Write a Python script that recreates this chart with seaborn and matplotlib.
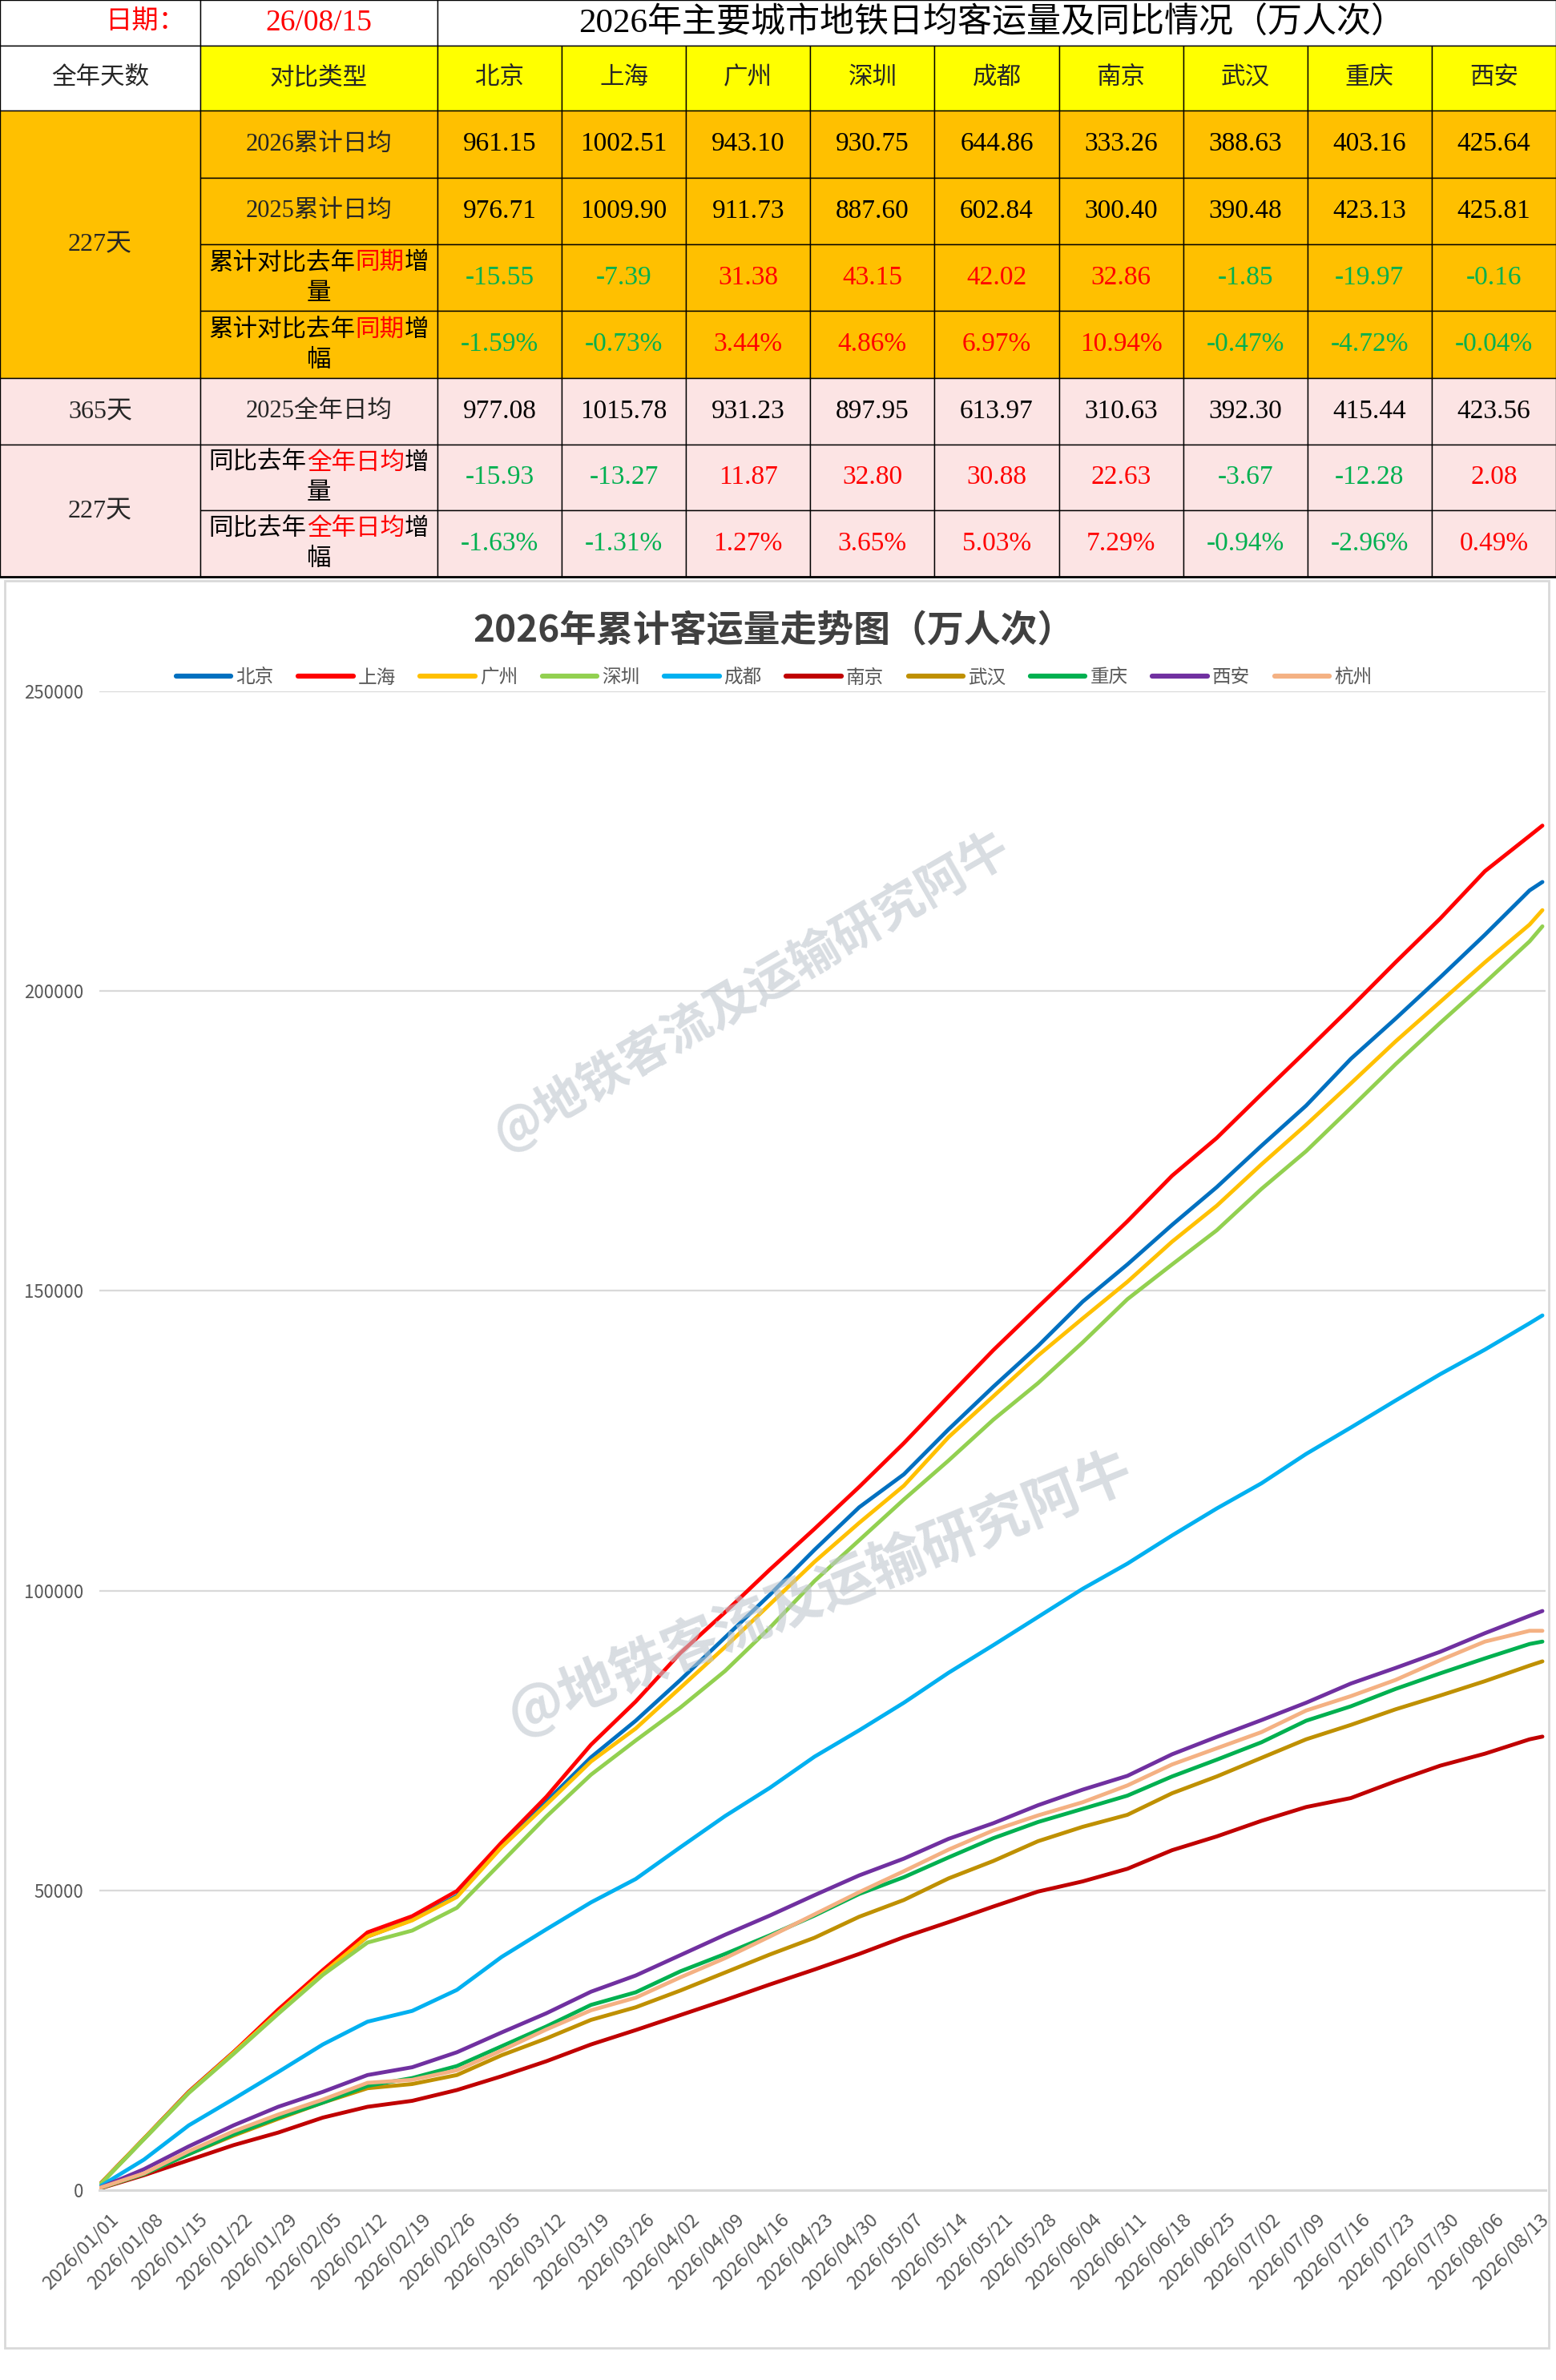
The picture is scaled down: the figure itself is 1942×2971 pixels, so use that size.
import matplotlib
matplotlib.use("Agg")
import matplotlib.pyplot as plt
import matplotlib.dates as mdates
import matplotlib.transforms as mtransforms
from matplotlib.patches import Rectangle
from matplotlib.lines import Line2D
import seaborn as sns
import pandas as pd

# ---------------- table data ----------------
report_date = "26/08/15"
table_title = "2026年主要城市地铁日均客运量及同比情况（万人次）"
table_cities = ["北京", "上海", "广州", "深圳", "成都", "南京", "武汉", "重庆", "西安"]
avg_2026 = [961.15, 1002.51, 943.10, 930.75, 644.86, 333.26, 388.63, 403.16, 425.64]
avg_2025_ytd = [976.71, 1009.90, 911.73, 887.60, 602.84, 300.40, 390.48, 423.13, 425.81]
diff_ytd = [-15.55, -7.39, 31.38, 43.15, 42.02, 32.86, -1.85, -19.97, -0.16]
pct_ytd = [-1.59, -0.73, 3.44, 4.86, 6.97, 10.94, -0.47, -4.72, -0.04]
avg_2025_full = [977.08, 1015.78, 931.23, 897.95, 613.97, 310.63, 392.30, 415.44, 423.56]
diff_full = [-15.93, -13.27, 11.87, 32.80, 30.88, 22.63, -3.67, -12.28, 2.08]
pct_full = [-1.63, -1.31, 1.27, 3.65, 5.03, 7.29, -0.94, -2.96, 0.49]

# ---------------- chart data (cumulative, 万人次, read weekly) ----------------
chart_title = "2026年累计客运量走势图（万人次）"
days = [0, 7, 14, 21, 28, 35, 42, 49, 56, 63, 70, 77, 84, 91, 98, 105, 112, 119,
        126, 133, 140, 147, 154, 161, 168, 175, 182, 189, 196, 203, 210, 217, 224, 226]
beijing = [850, 8600, 16400, 23000, 29600, 36200, 42300, 45100, 49100, 57700, 64800, 72200,
           78300, 85100, 92200, 99300, 106800, 113900, 119400, 126900, 134000, 140800,
           148200, 154400, 161000, 167300, 174200, 180900, 188700, 195400, 202300, 209400,
           216800, 218200]
shanghai = [900, 8600, 16400, 23000, 30100, 36700, 43000, 45700, 49900, 58000, 65600, 74300,
            81500, 89600, 96400, 103500, 110300, 117300, 124600, 132400, 140100, 147300,
            154400, 161600, 169200, 175500, 182800, 190000, 197300, 204800, 212100, 220000,
            225900, 227600]
guangzhou = [850, 8600, 16300, 22900, 29600, 36200, 42300, 45000, 48900, 57200, 64300, 71500,
             77000, 83800, 90600, 97700, 104800, 111300, 117500, 125600, 132400, 139200,
             145400, 151500, 158200, 164200, 171100, 177700, 184600, 191600, 198200, 204800,
             211100, 213500]
shenzhen = [800, 8500, 16200, 22700, 29400, 35900, 41300, 43300, 47100, 54700, 62300, 69300,
            75000, 80500, 86600, 93800, 101600, 108400, 115200, 121700, 128500, 134600,
            141400, 148600, 154400, 160100, 167000, 173300, 180500, 187800, 194700, 201400,
            208300, 210800]
chengdu = [550, 5100, 10800, 15200, 19700, 24300, 28100, 29900, 33400, 38900, 43500, 48000,
           51900, 57200, 62400, 67100, 72300, 76700, 81300, 86300, 90900, 95600,
           100300, 104500, 109200, 113700, 117900, 122800, 127200, 131700, 136100, 140200,
           144600, 145900]
nanjing = [250, 2500, 5000, 7500, 9600, 12100, 13900, 14900, 16700, 19000, 21500, 24300,
           26700, 29200, 31700, 34300, 36800, 39400, 42200, 44700, 47300, 49800,
           51500, 53600, 56700, 59000, 61600, 63900, 65400, 68200, 70800, 72800,
           75200, 75650]
wuhan = [300, 2700, 6000, 9100, 11900, 14600, 17000, 17700, 19200, 22500, 25300, 28400,
         30500, 33300, 36300, 39300, 42100, 45600, 48400, 52000, 54900, 58200,
         60600, 62600, 66200, 69000, 72100, 75200, 77600, 80200, 82500, 84900,
         87500, 88200]
chongqing = [330, 2700, 6000, 9300, 12100, 14600, 17400, 18700, 20700, 24000, 27300, 30900,
             33000, 36500, 39400, 42500, 45800, 49400, 52200, 55500, 58700, 61400,
             63600, 65800, 69000, 71800, 74700, 78300, 80700, 83600, 86200, 88700,
             91100, 91500]
xian = [350, 3500, 7300, 10800, 13900, 16400, 19200, 20500, 23000, 26300, 29500, 33100,
        35800, 39200, 42600, 45800, 49200, 52500, 55300, 58600, 61200, 64200,
        66800, 69100, 72700, 75600, 78400, 81300, 84500, 87100, 89800, 92900,
        95800, 96600]
hangzhou = [350, 2800, 6500, 9800, 12600, 15100, 17900, 18400, 20000, 23300, 26800, 30000,
            32100, 35500, 38700, 42300, 46000, 49700, 53200, 56800, 60000, 62500,
            64700, 67500, 71000, 73700, 76400, 80000, 82400, 85100, 88400, 91500,
            93300, 93300]

chart_cities = ["北京", "上海", "广州", "深圳", "成都", "南京", "武汉", "重庆", "西安", "杭州"]
city_series = [beijing, shanghai, guangzhou, shenzhen, chengdu, nanjing, wuhan,
               chongqing, xian, hangzhou]
city_colors = ["#0070C0", "#FF0000", "#FFC000", "#92D050", "#00B0F0", "#C00000",
               "#BF9000", "#00B050", "#7030A0", "#F4B183"]

start = pd.Timestamp("2026-01-01")
rows = []
for city, vals in zip(chart_cities, city_series):
    for d, v in zip(days, vals):
        rows.append((start + pd.Timedelta(days=d), city, v))
df = pd.DataFrame(rows, columns=["date", "city", "value"])

# ---------------- style ----------------
sns.set_style("white")
plt.rcParams["font.family"] = ["Noto Sans CJK SC", "DejaVu Sans"]
plt.rcParams["axes.unicode_minus"] = False
serif_cjk = ["Liberation Serif", "Noto Sans CJK SC"]
W, H = 1942, 2971

fig = plt.figure(figsize=(W / 100, H / 100), dpi=100)
bg = fig.add_axes([0, 0, 1, 1])
bg.set_xlim(0, W)
bg.set_ylim(H, 0)
bg.axis("off")

# ---------------- table ----------------
YELLOW, ORANGE, PINK = "#FFFF00", "#FFC000", "#FCE4E4"
RED, GREEN = "#FF0000", "#00B050"
col_edges = [0, 250, 546] + [546 + 155.1 * (i + 1) for i in range(9)]
row_edges = [0, 57, 138, 222, 305, 388, 472, 555, 637, 720]


def cell(r0, r1, c0, c1, color):
    x0, x1 = col_edges[c0], col_edges[c1]
    y0, y1 = row_edges[r0], row_edges[r1]
    bg.add_patch(Rectangle((x0, y0), x1 - x0, y1 - y0, facecolor=color,
                           edgecolor="black", lw=1.0))


def cx(c0, c1):
    return (col_edges[c0] + col_edges[c1]) / 2


def cy(r0, r1):
    return (row_edges[r0] + row_edges[r1]) / 2


def rich(x, y, segments, size=22):
    em = size * 100 / 72
    total = sum(len(t) for t, _ in segments) * em
    left = x - total / 2
    for t, c in segments:
        bg.text(left, y, t, color=c, fontsize=size, ha="left", va="center",
                family=serif_cjk)
        left += len(t) * em


cell(0, 1, 0, 1, "white")
cell(0, 1, 1, 2, "white")
cell(0, 1, 2, 11, "white")
cell(1, 2, 0, 1, "white")
for c in range(1, 11):
    cell(1, 2, c, c + 1, YELLOW)
cell(2, 6, 0, 1, ORANGE)
cell(6, 7, 0, 1, PINK)
cell(7, 9, 0, 1, PINK)
for r in range(2, 9):
    for c in range(1, 11):
        cell(r, r + 1, c, c + 1, ORANGE if r < 6 else PINK)
bg.plot([0, W], [720, 720], color="black", lw=2)

bg.text(231, cy(0, 1), "日期：", color=RED, fontsize=24, ha="right", va="center",
        family=serif_cjk)
bg.text(cx(1, 2), cy(0, 1), report_date, color=RED, fontsize=27, ha="center",
        va="center", family=serif_cjk)
bg.text(cx(2, 11) - 6, cy(0, 1) + 1, table_title, color="black", fontsize=31,
        ha="center", va="center", family=serif_cjk)

bg.text(cx(0, 1), cy(1, 2), "全年天数", fontsize=22, ha="center", va="center",
        family=serif_cjk)
bg.text(cx(1, 2), cy(1, 2), "对比类型", fontsize=22, ha="center", va="center",
        family=serif_cjk)
for i, name in enumerate(table_cities):
    bg.text(cx(i + 2, i + 3), cy(1, 2), name, fontsize=22, ha="center",
            va="center", family=serif_cjk)

bg.text(cx(0, 1), cy(2, 6), "227天", fontsize=23, ha="center", va="center",
        family=serif_cjk)
bg.text(cx(0, 1), cy(6, 7), "365天", fontsize=23, ha="center", va="center",
        family=serif_cjk)
bg.text(cx(0, 1), cy(7, 9), "227天", fontsize=23, ha="center", va="center",
        family=serif_cjk)

bg.text(cx(1, 2), cy(2, 3), "2026累计日均", fontsize=22, ha="center", va="center",
        family=serif_cjk)
bg.text(cx(1, 2), cy(3, 4), "2025累计日均", fontsize=22, ha="center", va="center",
        family=serif_cjk)
bg.text(cx(1, 2), cy(6, 7), "2025全年日均", fontsize=22, ha="center", va="center",
        family=serif_cjk)
for r, tail in [(4, "量"), (5, "幅")]:
    rich(cx(1, 2), cy(r, r + 1) - 18, [("累计对比去年", "black"), ("同期", RED), ("增", "black")])
    rich(cx(1, 2), cy(r, r + 1) + 20, [(tail, "black")])
for r, tail in [(7, "量"), (8, "幅")]:
    rich(cx(1, 2), cy(r, r + 1) - 18, [("同比去年", "black"), ("全年日均", RED), ("增", "black")])
    rich(cx(1, 2), cy(r, r + 1) + 20, [(tail, "black")])

table_rows = [(2, avg_2026, False, ""), (3, avg_2025_ytd, False, ""),
              (4, diff_ytd, True, ""), (5, pct_ytd, True, "%"),
              (6, avg_2025_full, False, ""), (7, diff_full, True, ""),
              (8, pct_full, True, "%")]
for r, vals, signed, suffix in table_rows:
    for i, v in enumerate(vals):
        color = "black" if not signed else (GREEN if v < 0 else RED)
        bg.text(cx(i + 2, i + 3), cy(r, r + 1), f"{v:.2f}{suffix}", color=color,
                fontsize=24, ha="center", va="center", family=serif_cjk)

# chart frame
bg.add_patch(Rectangle((6, 725), 1927, 2206, facecolor="white",
                       edgecolor="#D9D9D9", lw=2))

# ---------------- line chart ----------------
ax = fig.add_axes([124 / W, (H - 2734) / H, (1929 - 124) / W, (2734 - 863) / H])
ax.set_zorder(2)
ax.patch.set_alpha(0)
sns.lineplot(data=df, x="date", y="value", hue="city", hue_order=chart_cities,
             palette=dict(zip(chart_cities, city_colors)), estimator=None,
             linewidth=3.5, legend=False, ax=ax)

tick_dates = pd.date_range("2026-01-01", "2026-08-13", freq="7D")
ax.set_xlim(mdates.date2num(start), mdates.date2num(start + pd.Timedelta(hours=226.5 * 24)))
ax.set_xticks(mdates.date2num(tick_dates))
ax.set_xticklabels([d.strftime("%Y/%m/%d") for d in tick_dates], rotation=45,
                   ha="right", rotation_mode="anchor", fontsize=17, color="#595959")
ax.set_ylim(0, 250000)
ax.set_yticks(range(0, 250001, 50000))
ax.set_yticklabels([str(v) for v in range(0, 250001, 50000)], fontsize=16,
                   color="#595959")
ax.set_xlabel("")
ax.set_ylabel("")
ax.yaxis.grid(True, color="#D9D9D9", lw=1.6)
ax.xaxis.grid(False)
for s in ["left", "right", "top"]:
    ax.spines[s].set_visible(False)
ax.spines["bottom"].set_color("#D9D9D9")
ax.spines["bottom"].set_linewidth(2.2)
ax.tick_params(axis="x", direction="out", length=8, width=1.4, color="#D9D9D9", pad=10)
ax.tick_params(axis="y", length=0, pad=14)
offset = mtransforms.ScaledTranslation(0.12, 0, fig.dpi_scale_trans)
for lab in ax.get_xticklabels():
    lab.set_transform(lab.get_transform() + offset)

fig.text(966 / W, 1 - 787 / H, chart_title, fontsize=33, fontweight="bold",
         color="#404040", ha="center", va="center")
handles = [Line2D([0], [0], color=c, lw=4.5, solid_capstyle="round") for c in city_colors]
leg = ax.legend(handles, chart_cities, loc="center", bbox_to_anchor=(966 / W, 1 - 846 / H),
                bbox_transform=fig.transFigure, ncol=10, frameon=False, fontsize=17,
                handlelength=2.9, handletextpad=0.25, columnspacing=1.3)
for t in leg.get_texts():
    t.set_color("#595959")

# watermark
fig.text(938 / W, 1 - 1236 / H, "@地铁客流及运输研究阿牛", fontsize=44, fontweight="bold",
         color="#BFC6CE", alpha=0.6, rotation=30, ha="center", va="center", zorder=10)
fig.text(1023 / W, 1 - 1989 / H, "@地铁客流及运输研究阿牛", fontsize=50, fontweight="bold",
         color="#BFC6CE", alpha=0.6, rotation=22, ha="center", va="center", zorder=10)

fig.savefig("out.png", dpi=100, facecolor="white")
